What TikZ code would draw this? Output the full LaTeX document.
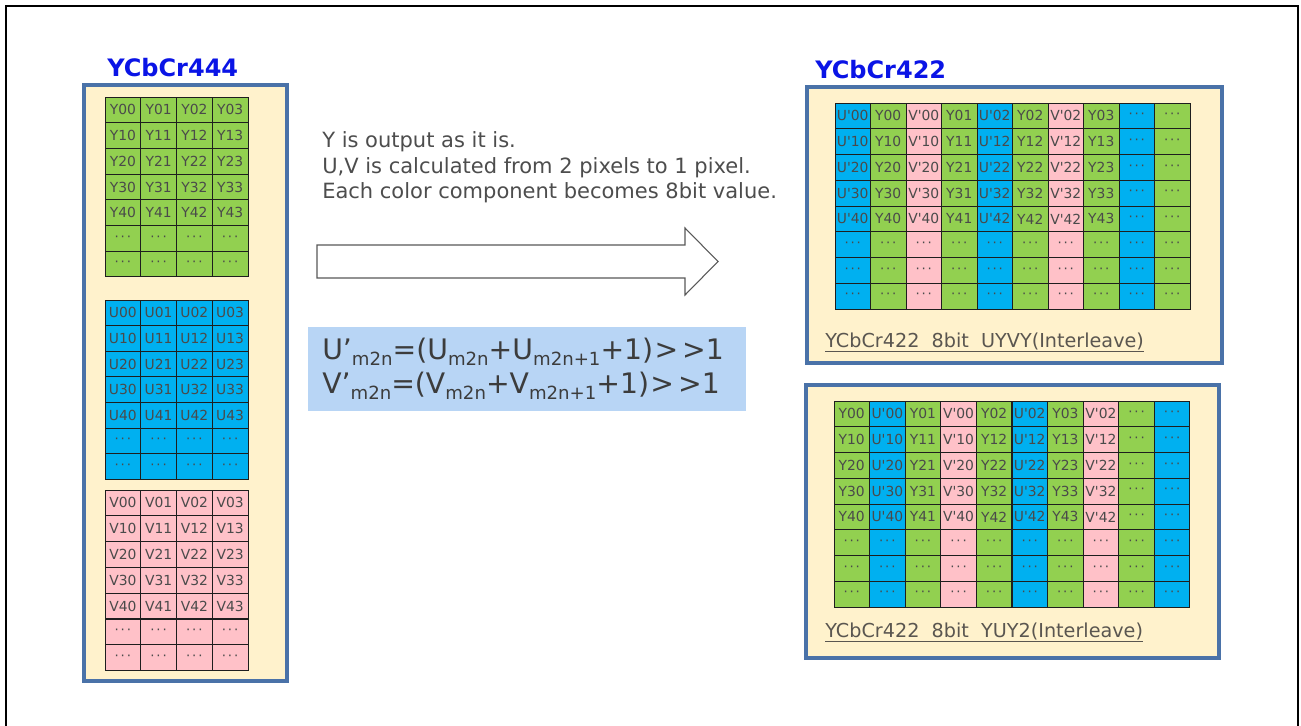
\documentclass[tikz,border=0pt]{standalone}
\usepackage{fontspec}
\setmainfont{DejaVu Sans}
\newfontfamily\cellfont{DejaVu Sans}
\definecolor{ygreen}{HTML}{92D050}
\definecolor{ublue}{HTML}{00B0F0}
\definecolor{vpink}{HTML}{FFC1C8}
\definecolor{cream}{HTML}{FFF2CC}
\definecolor{frameblue}{HTML}{4A72A8}
\definecolor{titleblue}{HTML}{0A14E6}
\definecolor{celltext}{HTML}{4A4A4A}
\definecolor{gridline}{HTML}{1E1E1E}
\definecolor{bodytext}{HTML}{4D4D4D}
\definecolor{captext}{HTML}{5A5650}
\definecolor{formulabg}{HTML}{B8D5F5}
\definecolor{formtext}{HTML}{3C3C3C}
\definecolor{dotgray}{HTML}{4A4A4A}
\newcommand\celldots{\textcolor{dotgray}{\fontsize{10}{11}\selectfont ·\kern1.4pt·\kern1.4pt·}}
\newcommand\sbs[1]{\raisebox{-4.6pt}{\fontsize{13.6}{15}\selectfont #1}}
\tikzset{
  cellbox/.style={draw=gridline, line width=0.75pt, inner sep=0pt, outer sep=0pt,
    anchor=north west, text=celltext, font=\cellfont\fontsize{10.4}{12}\selectfont},
  lcell/.style={cellbox, minimum width=35.75*0.75pt, minimum height=25.7*0.75pt},
  rcell/.style={cellbox, minimum width=35.5*0.75pt, minimum height=25.75*0.75pt},
  panel/.style={draw=frameblue, line width=2.6pt, fill=cream},
  titletext/.style={font=\bfseries\fontsize{18}{20}\selectfont, text=titleblue, anchor=base west, inner sep=0pt},
  bodyline/.style={font=\fontsize{15.75}{18}\selectfont, text=bodytext, anchor=base west, inner sep=0pt},
  captiontext/.style={font=\fontsize{14.4}{17}\selectfont, text=captext, anchor=base west, inner sep=0pt},
  formulatext/.style={font=\fontsize{21.2}{24}\selectfont, text=formtext, anchor=base west, inner sep=0pt},
  bigarrow/.style={draw=black!65, line width=0.8pt, fill=white, line join=miter},
}
\begin{document}
\begin{tikzpicture}[x=0.75pt,y=-0.75pt]
\useasboundingbox (0,0) rectangle (1301,725);
\fill[white] (0,0) rectangle (1301,725);
% outer frame
\draw[line width=1.6pt] (6,740) -- (6,6) -- (1298,6) -- (1298,740);

% ---------- left panel ----------
\node[titletext] (t444) at (107,76) {YCbCr444};
\path[panel] (84,85) rectangle (287,681);
\foreach \r in {0,...,6}{
  \foreach \c in {0,...,3}{
    \node[lcell, fill=ygreen] (LY\r\c) at ({105+35.75*\c},{97+25.7*\r}) {\ifnum\r<5 Y\r\c\else\celldots\fi};
    \node[lcell, fill=ublue] (LU\r\c) at ({105+35.75*\c},{300+25.6*\r}) {\ifnum\r<5 U\r\c\else\celldots\fi};
    \node[lcell, fill=vpink] (LV\r\c) at ({105+35.75*\c},{490+25.8*\r}) {\ifnum\r<5 V\r\c\else\celldots\fi};
  }
}

% ---------- middle ----------
\node[bodyline] (txt1) at (322,147) {Y is output as it is.};
\node[bodyline] (txt2) at (322,173) {U,V is calculated from 2 pixels to 1 pixel.};
\node[bodyline] (txt3) at (322,198) {Each color component becomes 8bit value.};
\draw[bigarrow] (317,245) -- (685,245) -- (685,228) -- (718,261.5) -- (685,295) -- (685,278) -- (317,278) -- cycle;
\fill[formulabg] (308,327) rectangle (746,411);
\node[formulatext] (f1) at (322,359) {U’\sbs{m2n}=(U\sbs{m2n}+U\sbs{m2n+1}+1)\kern1pt>\kern3pt>1};
\node[formulatext] (f2) at (322,393) {V’\sbs{m2n}=(V\sbs{m2n}+V\sbs{m2n+1}+1)\kern1pt>\kern3pt>1};

% ---------- right top panel (UYVY) ----------
\node[titletext] (t422) at (815,78) {YCbCr422};
\path[panel] (807,87) rectangle (1222,363);
\foreach \r in {0,...,7}{
  \foreach \c/\col/\pre/\k in {0/ublue/U'/0, 1/ygreen/Y/0, 2/vpink/V'/0, 3/ygreen/Y/1,
                               4/ublue/U'/2, 5/ygreen/Y/2, 6/vpink/V'/2, 7/ygreen/Y/3,
                               8/ublue/-/-, 9/ygreen/-/-}{
    \node[rcell, fill=\col] (RA\r-\c) at ({835+35.5*\c},{103+25.75*\r})
      {\ifnum\c<8 \ifnum\r<5 \pre\r\k\else\celldots\fi\else\celldots\fi};
  }
}
\node[captiontext] (capA) at (825,347) {\underline{YCbCr422\ \ 8bit\ \ UYVY(Interleave)}};

% ---------- right bottom panel (YUY2) ----------
\path[panel] (806,385) rectangle (1219,658);
\foreach \r in {0,...,7}{
  \foreach \c/\col/\pre/\k in {0/ygreen/Y/0, 1/ublue/U'/0, 2/ygreen/Y/1, 3/vpink/V'/0,
                               4/ygreen/Y/2, 5/ublue/U'/2, 6/ygreen/Y/3, 7/vpink/V'/2,
                               8/ygreen/-/-, 9/ublue/-/-}{
    \node[rcell, fill=\col] (RB\r-\c) at ({834+35.6*\c},{401+25.75*\r})
      {\ifnum\c<8 \ifnum\r<5 \pre\r\k\else\celldots\fi\else\celldots\fi};
  }
}
\node[captiontext] (capB) at (825,637) {\underline{YCbCr422\ \ 8bit\ \ YUY2(Interleave)}};
\end{tikzpicture}
\end{document}
